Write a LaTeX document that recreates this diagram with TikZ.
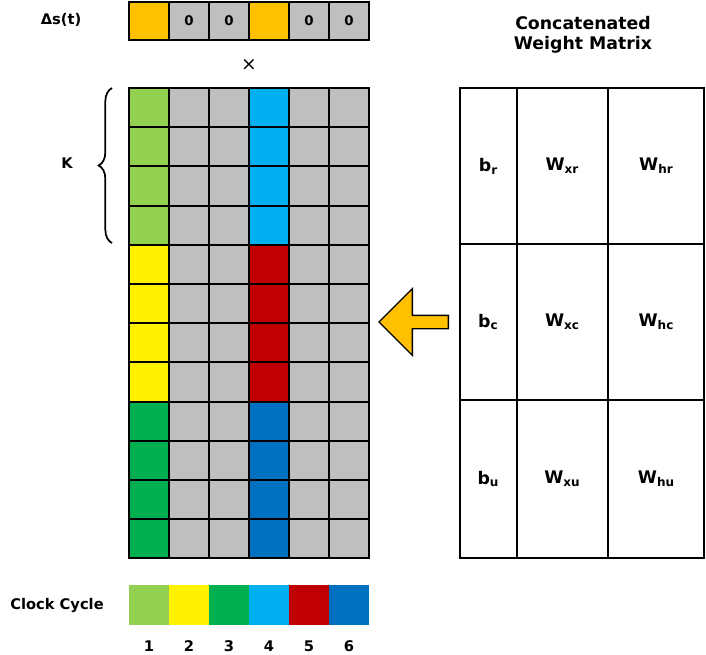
\documentclass[tikz,border=0pt]{standalone}
\usepackage{fontspec}
\setmainfont{DejaVu Sans}
\usetikzlibrary{decorations.pathreplacing,shapes.arrows}
\definecolor{lgreen}{RGB}{146,208,80}
\definecolor{dgreen}{RGB}{0,176,80}
\definecolor{cyanb}{RGB}{0,176,240}
\definecolor{dred}{RGB}{192,0,0}
\definecolor{blueb}{RGB}{0,112,192}
\definecolor{orangeb}{RGB}{255,192,0}
\definecolor{grayb}{RGB}{191,191,191}
\tikzset{
  cell/.style={draw=black,line width=1.6pt},
  lbl/.style={font=\bfseries\fontsize{11}{13}\selectfont},
  wlbl/.style={font=\bfseries\fontsize{13}{15}\selectfont}
}
\newcommand{\subb}[1]{\raisebox{-0.3ex}{\fontsize{9}{10}\selectfont #1}}
\begin{document}
\begin{tikzpicture}[x=0.75pt,y=-0.75pt]
\useasboundingbox (0,0) rectangle (706,654);
% delta s row
\foreach \c/\col/\t in {0/orangeb/,1/grayb/0,2/grayb/0,3/orangeb/,4/grayb/0,5/grayb/0}
{
  \filldraw[cell,fill=\col] ({129+40*\c},2) rectangle ({169+40*\c},40);
  \node[font=\bfseries\fontsize{10}{12}\selectfont] (d\c) at ({149+40*\c},21) {\t};
}
\node[lbl] (ds) at (61,20) {Δs(t)};
\node[font=\fontsize{14}{16}\selectfont] (times) at (249,65) {×};
% main grid
\foreach \r in {0,...,11}
{
  \foreach \c in {0,...,5}
  {
    \filldraw[cell,fill=grayb] ({129+40*\c},{88+39.2*\r}) rectangle ({169+40*\c},{88+39.2*(\r+1)});
  }
}
\foreach \r in {0,...,3}
{
  \filldraw[cell,fill=lgreen] (129,{88+39.2*\r}) rectangle (169,{88+39.2*(\r+1)});
  \filldraw[cell,fill=yellow] (129,{244.8+39.2*\r}) rectangle (169,{244.8+39.2*(\r+1)});
  \filldraw[cell,fill=dgreen] (129,{401.6+39.2*\r}) rectangle (169,{401.6+39.2*(\r+1)});
  \filldraw[cell,fill=cyanb] (249,{88+39.2*\r}) rectangle (289,{88+39.2*(\r+1)});
  \filldraw[cell,fill=dred] (249,{244.8+39.2*\r}) rectangle (289,{244.8+39.2*(\r+1)});
  \filldraw[cell,fill=blueb] (249,{401.6+39.2*\r}) rectangle (289,{401.6+39.2*(\r+1)});
}
% brace
\coordinate (bt) at (112,88);
\coordinate (bb) at (112,243);
\draw[line width=1.3pt,decorate,decoration={brace,amplitude=10pt}] (bb) -- (bt);
\node[lbl] (K) at (67,163) {K};
% weight matrix
\node[wlbl,align=center] (title) at (583,35) {Concatenated\\Weight Matrix};
\draw[line width=1.3pt] (460,88) rectangle (704,558);
\draw[line width=1.3pt] (517,88) -- (517,558) (608,88) -- (608,558)
  (460,244) -- (704,244) (460,400) -- (704,400);
\foreach \y/\s in {166/r,322/c,479/u}
{
  \node[wlbl] (b\s) at (488,\y) {b\subb{\s}};
  \node[wlbl] (wx\s) at (562,\y) {W\subb{x\s}};
  \node[wlbl] (wh\s) at (656,\y) {W\subb{h\s}};
}
% arrow
\node[single arrow,shape border rotate=180,fill=orangeb,draw=black,line width=1pt,
  minimum width=50pt,single arrow head extend=2pt,minimum height=52pt,inner sep=0pt] (arr) at (417,322) {};
% clock cycle
\foreach \c/\col in {0/lgreen,1/yellow,2/dgreen,3/cyanb,4/dred,5/blueb}
{
  \fill[\col] ({129+40*\c},585) rectangle ({169+40*\c},625);
  \node[lbl] (n\c) at ({149+40*\c},646) {\the\numexpr\c+1\relax};
}
\node[lbl] (cc) at (57,605) {Clock Cycle};
\end{tikzpicture}
\end{document}
